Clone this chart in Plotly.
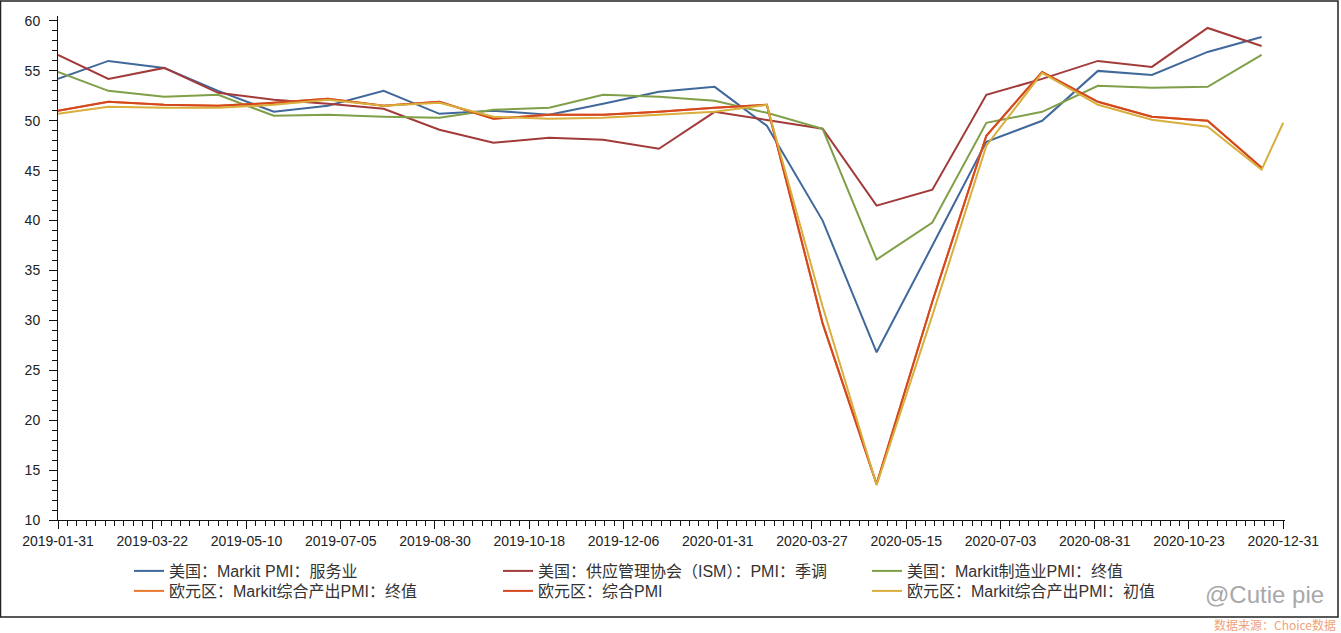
import pandas as pd
import plotly.graph_objects as go

# ---- data ----
months = [d.strftime("%Y-%m-%d") for d in pd.date_range("2019-01-31", periods=23, freq="ME")]
flash_dates = months + ["2020-12-12"]

us_services = [54.2, 56.0, 55.3, 53.0, 50.9, 51.5, 53.0, 50.7, 51.0, 50.6, 51.7, 52.9,
               53.4, 49.5, 40.0, 26.8, 37.5, 47.9, 50.0, 55.0, 54.6, 56.9, 58.4]
us_ism = [56.6, 54.2, 55.3, 52.8, 52.1, 51.7, 51.2, 49.1, 47.8, 48.3, 48.1, 47.2,
          50.9, 50.1, 49.2, 41.5, 43.1, 52.6, 54.2, 56.0, 55.4, 59.3, 57.5]
us_mfg = [54.9, 53.0, 52.4, 52.6, 50.5, 50.6, 50.4, 50.3, 51.1, 51.3, 52.6, 52.4,
          52.0, 50.8, 49.2, 36.1, 39.8, 49.8, 50.9, 53.5, 53.3, 53.4, 56.6]
ez_final = [51.0, 51.9, 51.6, 51.5, 51.8, 52.2, 51.5, 51.9, 50.2, 50.6, 50.6, 50.9,
            51.3, 51.6, 29.7, 13.6, 31.9, 48.5, 54.9, 51.9, 50.4, 50.0, 45.3]
ez_comp = [51.0, 51.9, 51.6, 51.5, 51.8, 52.2, 51.5, 51.9, 50.2, 50.6, 50.6, 50.9,
           51.3, 51.6, 29.7, 13.6, 31.9, 48.5, 54.9, 51.9, 50.4, 50.0, 45.3]
ez_flash = [50.7, 51.4, 51.3, 51.3, 51.6, 52.1, 51.5, 51.8, 50.4, 50.2, 50.3, 50.6,
            50.9, 51.6, 31.4, 13.5, 30.5, 47.5, 54.8, 51.6, 50.1, 49.4, 45.1, 49.8]

names = ["美国：Markit PMI：服务业", "美国：供应管理协会（ISM）：PMI：季调", "美国：Markit制造业PMI：终值",
         "欧元区：Markit综合产出PMI：终值", "欧元区：综合PMI", "欧元区：Markit综合产出PMI：初值"]
colors = ["#41689A", "#A33A3A", "#7F9F48", "#E8792D", "#D4471F", "#D8AE3C"]
legend_rows = ["legend", "legend", "legend", "legend2", "legend2", "legend2"]

x_labels = ["2019-01-31", "2019-03-22", "2019-05-10", "2019-07-05", "2019-08-30", "2019-10-18",
            "2019-12-06", "2020-01-31", "2020-03-27", "2020-05-15", "2020-07-03", "2020-08-31",
            "2020-10-23", "2020-12-31"]

axis_start, axis_end, last_tick = "2019-01-31", "2020-12-13", "2020-12-12"
major = pd.date_range(axis_start, last_tick, periods=len(x_labels))
minor = pd.date_range(axis_start, last_tick, periods=(len(x_labels) - 1) * 10 + 1)

series = [(months, us_services), (months, us_ism), (months, us_mfg),
          (months, ez_final), (months, ez_comp), (flash_dates, ez_flash)]

fig = go.Figure()
for (xs, ys), nm, c, lg in zip(series, names, colors, legend_rows):
    fig.add_trace(go.Scatter(x=xs, y=ys, mode="lines", name=nm, legend=lg,
                             line=dict(color=c, width=2)))

font_lat = "Liberation Sans, Arial, Noto Sans CJK SC, sans-serif"
PW, PH, L, B = 1227, 504, 58, 520  # plot width/height, left px, bottom px


def px_x(p):
    return (p - L) / PW


def px_y(p):
    return (B - p) / PH


legend_common = dict(orientation="h", xanchor="left", yanchor="top",
                     entrywidth=324, entrywidthmode="pixels", traceorder="normal",
                     font=dict(family=font_lat, size=16, color="#333"),
                     bgcolor="rgba(0,0,0,0)")

fig.update_layout(
    width=1341, height=633,
    margin=dict(l=58, r=56, t=16, b=113, autoexpand=False),
    paper_bgcolor="white", plot_bgcolor="white",
    font=dict(family=font_lat, size=14, color="#222"),
    legend=dict(x=px_x(129), y=px_y(554), **legend_common),
    legend2=dict(x=px_x(129), y=px_y(574), **legend_common),
    xaxis=dict(type="date", range=[axis_start, axis_end],
               tickmode="array", tickvals=major, ticktext=x_labels,
               showgrid=False, zeroline=False, showline=True, linecolor="#111", linewidth=1,
               ticks="outside", ticklen=8, tickcolor="#111",
               minor=dict(tickmode="array", tickvals=minor, ticks="outside", ticklen=5,
                          tickcolor="#111", showgrid=False),
               tickfont=dict(size=14, color="#222")),
    yaxis=dict(range=[10, 60.5], tickmode="linear", tick0=10, dtick=5,
               showgrid=False, zeroline=False, showline=True, linecolor="#111", linewidth=1,
               ticks="outside", ticklen=8, tickcolor="#111", ticklabelstandoff=6,
               minor=dict(dtick=1, ticks="outside", ticklen=5, tickcolor="#111", showgrid=False),
               tickfont=dict(size=14, color="#222")),
    showlegend=True,
)

# outer frame
fig.add_shape(type="rect", xref="paper", yref="paper",
              x0=px_x(0.5), x1=px_x(1338), y0=px_y(617), y1=px_y(1),
              line=dict(color="#222", width=1.5), fillcolor="rgba(0,0,0,0)", layer="below")

fig.add_annotation(text="@Cutie pie", xref="paper", yref="paper",
                   x=px_x(1326), y=px_y(594), xanchor="right", yanchor="middle",
                   showarrow=False, font=dict(family="Liberation Sans, Arial", size=24, color="#a8a8a8"))
fig.add_annotation(text="数据来源：Choice数据", xref="paper", yref="paper",
                   x=px_x(1338), y=px_y(624), xanchor="right", yanchor="middle",
                   showarrow=False, font=dict(family="Noto Sans CJK SC, sans-serif", size=12, color="#EFA37A"))

fig.write_html("out.html",
               config={"displayModeBar": False},
               post_script="document.documentElement.style.margin='0';"
                           "document.body.style.margin='0';"
                           "document.body.style.overflow='hidden';")
